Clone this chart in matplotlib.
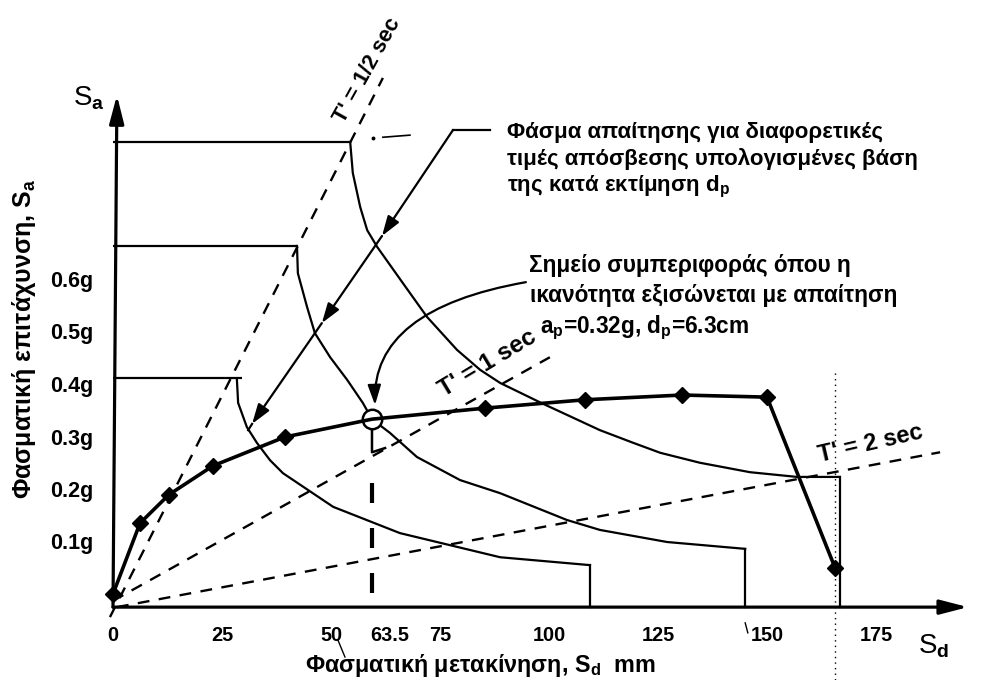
import matplotlib
matplotlib.use('Agg')
import matplotlib.pyplot as plt
import numpy as np

plt.rcParams['font.family'] = ['Liberation Sans', 'DejaVu Sans']
plt.rcParams['font.weight'] = 'bold'
plt.rcParams['mathtext.fontset'] = 'custom'
plt.rcParams['mathtext.rm'] = 'Liberation Sans:bold'
plt.rcParams['mathtext.it'] = 'Liberation Sans:italic:bold'
plt.rcParams['mathtext.bf'] = 'Liberation Sans:bold'

# ---------------- data (Sd in mm, Sa in g) ----------------
# capacity curve (diamonds)
cap_sd = [0, 6.2, 12.8, 22.9, 39.4, 85.3, 108.3, 130.5, 150.0, 165.6]
cap_sa = [0, 0.135, 0.189, 0.244, 0.299, 0.354, 0.370, 0.379, 0.375, 0.050]
# performance point
perf_sd = 59.4
perf_sa = 0.333

# demand spectra for different damping values
d1_level, d1_end = 0.861, 54.4
d1_sd = [54.4, 55.0, 56.7, 58.3, 60.6, 66.5, 72.0, 78.9, 84.2, 88.8, 98.2,
         111.7, 119.3, 125.5, 134.6, 146.1, 156.9, 166.7]
d1_sa = [0.861, 0.802, 0.737, 0.693, 0.661, 0.592, 0.528, 0.465, 0.427, 0.402,
         0.364, 0.312, 0.288, 0.269, 0.250, 0.232, 0.223, 0.223]

d2_level, d2_end = 0.663, 42.2
d2_sd = [42.2, 42.4, 44.5, 46.3, 49.8, 53.7, 57.3, 59.4, 63.5, 69.7, 79.6,
         88.8, 104.1, 111.7, 127.1, 145.0]
d2_sa = [0.663, 0.611, 0.547, 0.497, 0.451, 0.408, 0.364, 0.333, 0.307, 0.261,
         0.217, 0.192, 0.141, 0.122, 0.099, 0.086]

d3_level, d3_end = 0.411, 29.6
d3_sd = [28.4, 28.7, 30.7, 33.0, 36.0, 39.0, 50.5, 65.8, 88.8, 109.4]
d3_sa = [0.411, 0.364, 0.318, 0.288, 0.255, 0.230, 0.166, 0.116, 0.070, 0.055]

# constant period lines (start / end points)
t_labels = ["T' = 1/2 sec", "T' = 1 sec", "T' = 2 sec"]
t_sd0 = [-0.7, 0.0, 0.9]
t_sa0 = [-0.044, -0.013, -0.025]
t_sd1 = [61.9, 100.2, 189.7]
t_sa1 = [0.983, 0.451, 0.270]

# ticks
x_ticks = [0, 25, 50, 63.5, 75, 100, 125, 150, 175]
x_tick_labels = ['0', '25', '50', '63.5', '75', '100', '125', '150', '175']
y_ticks = [0.1, 0.2, 0.3, 0.4, 0.5, 0.6]
y_tick_labels = ['0.1g', '0.2g', '0.3g', '0.4g', '0.5g', '0.6g']

axis_sa = -0.025
x_axis_end = 196.1
y_axis_end = 0.950

# annotation geometry (data units)
arrow1_leader_sd = [78.0, 86.5]
arrow1_leader_sa = [0.884, 0.884]
arrow1_sd = [78.0, 61.7, 47.9, 31.9, 31.0]
arrow1_sa = [0.884, 0.682, 0.516, 0.324, 0.312]
arrow2_start = (94.7, 0.594)
arrow2_end = (60.1, 0.360)
dp_dash_sa = [0.002, 0.211]
dp_hook_sd = [59.4, 59.4, 62.4]
dp_hook_sa = [0.312, 0.270, 0.278]

# ---------------- figure ----------------
W, H = 990, 680
fig = plt.figure(figsize=(W / 100, H / 100), dpi=100)
ax = fig.add_axes([0, 0, 1, 1])
ax.set_xlim(-113 / 4.36, (W - 113) / 4.36)
ax.set_ylim((594 - H) / 525, 594 / 525)
for s in ax.spines.values():
    s.set_visible(False)
ax.spines['bottom'].set_position(('data', axis_sa))
ax.spines['left'].set_position(('data', 0))

K = 'black'

# axes with arrows
ax.annotate('', xy=(x_axis_end, axis_sa), xytext=(0, axis_sa),
            arrowprops=dict(arrowstyle='-|>,head_length=0.85,head_width=0.22',
                            color=K, lw=2.3, shrinkA=0, shrinkB=0,
                            mutation_scale=20))
ax.annotate('', xy=(0.9, y_axis_end), xytext=(0, axis_sa),
            arrowprops=dict(arrowstyle='-|>,head_length=0.85,head_width=0.22',
                            color=K, lw=2.3, shrinkA=0, shrinkB=0,
                            mutation_scale=20))

# constant period lines
for x0, y0, x1, y1 in zip(t_sd0, t_sa0, t_sd1, t_sa1):
    ax.plot([x0, x1], [y0, y1], color=K, lw=1.7, ls=(0, (5, 4)), zorder=2)

# demand spectra
for lev, end, xs, ys in [(d1_level, d1_end, d1_sd, d1_sa),
                         (d2_level, d2_end, d2_sd, d2_sa),
                         (d3_level, d3_end, d3_sd, d3_sa)]:
    ax.plot([0, end], [lev, lev], color=K, lw=1.6, zorder=2,
            solid_capstyle='butt')
    ax.plot(xs, ys, color=K, lw=1.6, zorder=2, solid_joinstyle='round')
    ax.plot([xs[-1], xs[-1]], [ys[-1], axis_sa], color=K, lw=1.6, zorder=2)

# performance point dashed line and hook
ax.plot([perf_sd, perf_sd], dp_dash_sa, color=K, lw=3.0,
        ls=(0, (4.8, 6.0)), zorder=2, solid_capstyle='butt')
ax.plot(dp_hook_sd, dp_hook_sa, color=K, lw=1.8, zorder=2)

# capacity curve
idx = int(np.searchsorted(cap_sd, perf_sd))
line_sd = list(cap_sd[:idx]) + [perf_sd] + list(cap_sd[idx:])
line_sa = list(cap_sa[:idx]) + [perf_sa] + list(cap_sa[idx:])
ax.plot(perf_sd, perf_sa, marker='o', ms=14, mfc='white', mec=K, mew=1.8,
        zorder=3, ls='none')
ax.plot(line_sd, line_sa, color=K, lw=2.6, zorder=4)
ax.plot(cap_sd, cap_sa, ls='none', marker='D', ms=8.5, color=K, zorder=5)

# arrow 1 (straight, three heads)
ax.plot(arrow1_leader_sd, arrow1_leader_sa, color=K, lw=1.6)
ax.plot(arrow1_sd[-2:], arrow1_sa[-2:], color=K, lw=1.6)
for i in range(3):
    ax.annotate('', xy=(arrow1_sd[i + 1], arrow1_sa[i + 1]),
                xytext=(arrow1_sd[i], arrow1_sa[i]),
                arrowprops=dict(arrowstyle='-|>,head_length=0.6,head_width=0.2',
                                color=K, lw=1.6, shrinkA=0, shrinkB=0,
                                mutation_scale=20))
# arrow 2 (curved)
ax.annotate('', xy=arrow2_end, xytext=arrow2_start,
            arrowprops=dict(arrowstyle='-|>,head_length=0.6,head_width=0.2',
                            color=K, lw=1.6, shrinkA=0, shrinkB=0,
                            mutation_scale=20,
                            connectionstyle='angle3,angleA=10,angleB=92'))

# small scan marks
ax.plot([59.6], [0.869], marker='o', ms=1.8, color=K)
ax.plot([61.9, 68.1], [0.870, 0.874], color=K, lw=1.2)
ax.plot([165.6, 165.6], [0.421, -0.164], color=K, lw=1.0, ls=(0, (1, 3)))
ax.plot([51.6, 53.2], [-0.088, -0.120], color=K, lw=1.0)
ax.plot([145.0, 145.6], [-0.055, -0.074], color=K, lw=1.0)

# ticks
ax.set_xticks(x_ticks)
ax.set_xticklabels(x_tick_labels)
ax.set_yticks(y_ticks)
ax.set_yticklabels(y_tick_labels)
ax.tick_params(axis='x', length=0, pad=13.5, labelsize=14.3)
ax.tick_params(axis='y', length=0, pad=14.4, labelsize=15.5)


def fp(px, py):
    return px / W, 1 - py / H


txt = dict(color=K, transform=fig.transFigure)

# axis titles
sa_txt = fig.text(*fp(73, 105), r'S$_\mathrm{a}$', fontsize=20, ha='left',
                  va='baseline', fontweight='normal', **txt)
sd_txt = fig.text(*fp(918, 653), r'S$_\mathrm{d}$', fontsize=20, ha='left',
                  va='baseline', fontweight='normal', **txt)
xlab = fig.text(*fp(480, 672), r'Φασματική μετακίνηση, S$_\mathrm{d}$  mm',
                fontsize=14, ha='center', va='baseline', **txt)
ylab = fig.text(*fp(24, 339), r'Φασματική επιτάχυνση, S$_\mathrm{a}$',
                fontsize=14, ha='center', va='center', rotation=90, **txt)

# annotation text blocks
b1 = [fig.text(*fp(507, 138), 'Φάσμα απαίτησης για διαφορετικές', **txt),
      fig.text(*fp(507, 165), 'τιμές απόσβεσης υπολογισμένες βάση', **txt),
      fig.text(*fp(507, 191), r'της κατά εκτίμηση d$_\mathrm{p}$', **txt)]
b2 = [fig.text(*fp(529, 272), 'Σημείο συμπεριφοράς όπου η', **txt),
      fig.text(*fp(530, 302), 'ικανότητα εξισώνεται με απαίτηση', **txt),
      fig.text(*fp(540, 333), r'a$_\mathrm{p}$=0.32g, d$_\mathrm{p}$=6.3cm', **txt)]
for t in b1 + b2:
    t.set_fontsize(14)
    t.set_ha('left')
    t.set_va('baseline')

# period labels
tl = [fig.text(*fp(367, 70), t_labels[0], rotation=61, **txt),
      fig.text(*fp(488, 363), t_labels[1], rotation=31, **txt),
      fig.text(*fp(871, 444), t_labels[2], rotation=13, **txt)]
for t in tl:
    t.set_fontsize(15)
    t.set_ha('center')
    t.set_va('center')
    t.set_rotation_mode('anchor')

fig.canvas.draw()
r = fig.canvas.get_renderer()


def fit(texts, ref, target, use_height=False):
    bb = ref.get_window_extent(r)
    cur = bb.height if use_height else bb.width
    s = ref.get_fontsize() * target / cur
    for t in texts:
        t.set_fontsize(s)


def fit_rot(t, target):
    rot = t.get_rotation()
    t.set_rotation(0)
    bb = t.get_window_extent(r)
    t.set_fontsize(t.get_fontsize() * target / bb.width)
    t.set_rotation(rot)


fit(b1, b1[1], 411)
fit(b2, b2[1], 367)
fit([xlab], xlab, 353)
fit([ylab], ylab, 322, use_height=True)
for t, L in zip(tl, [117, 110, 107]):
    fit_rot(t, L)

fig.savefig('out.png', dpi=100)
